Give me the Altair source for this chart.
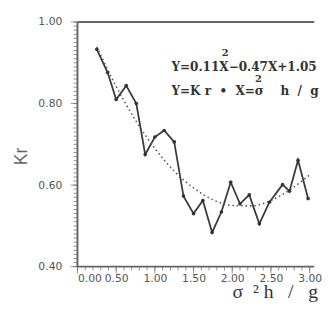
import altair as alt
import pandas as pd

x_vals = [0.25, 0.39, 0.50, 0.63, 0.76, 0.875, 1.00, 1.12, 1.25, 1.37, 1.50, 1.62,
          1.74, 1.86, 1.98, 2.10, 2.22, 2.35, 2.48, 2.65, 2.74, 2.85, 2.98]
kr_vals = [0.933, 0.876, 0.810, 0.844, 0.800, 0.675, 0.718, 0.734, 0.706, 0.573, 0.530, 0.562,
           0.484, 0.534, 0.607, 0.554, 0.576, 0.505, 0.558, 0.601, 0.585, 0.661, 0.567]

# fitted curve (dotted)
fit_x = [0.25, 0.50, 0.75, 1.00, 1.25, 1.50, 1.75, 2.00, 2.25, 2.50, 2.75, 3.00]
fit_y = [0.939, 0.842, 0.759, 0.690, 0.634, 0.593, 0.564, 0.550, 0.549, 0.562, 0.589, 0.625]

# tick positions
x_major_ticks = [0.0, 0.5, 1.0, 1.5, 2.0, 2.5, 3.0]
y_major_ticks = [0.4, 0.6, 0.8, 1.0]
x_minor_ticks = [round(i * 0.1, 1) for i in range(31)]
y_minor_ticks = [round(0.40 + i * 0.01, 2) for i in range(61)]

NB = "\u00a0"
eq_lines = ["Y=0.11X−0.47X+1.05",
            f"Y=K{NB}r{NB}{NB}•{NB}{NB}X=σ{NB}{NB}{NB}{NB}h{NB}{NB}/{NB}{NB}g"]
x_title = f"σ{NB}{NB}²{NB}h{NB}{NB}{NB}/{NB}{NB}{NB}g"

df = pd.DataFrame({"x": x_vals, "kr": kr_vals})
fit = pd.DataFrame({"x": fit_x, "y": fit_y})
one = pd.DataFrame({"k": [0]})

X_MAX = 3.06
W, H = 242, 250
xs = alt.Scale(domain=[0, X_MAX], nice=False, zero=False)
ys = alt.Scale(domain=[0.4, 1.0], nice=False, zero=False)
AX = "#666"

line = alt.Chart(df).mark_line(
    color="#3a3a3a", strokeWidth=1.8,
    point=alt.OverlayMarkDef(color="#333", size=14, filled=True),
).encode(
    x=alt.X("x:Q", scale=xs, axis=alt.Axis(
        values=x_major_ticks, format=".2f", domain=False, ticks=False,
        labelPadding=6, labelColor="#555", labelFont="DejaVu Sans", labelFontSize=11,
        grid=False,
        title=x_title, titleFont="Liberation Serif", titleFontSize=20,
        titleFontWeight="normal", titleColor="#333", titleX=158, titleY=32,
        titleAlign="left", titleBaseline="alphabetic")),
    y=alt.Y("kr:Q", scale=ys, axis=alt.Axis(
        values=y_major_ticks, format=".2f", domain=False, ticks=False,
        labelPadding=16, labelColor="#555", labelFont="DejaVu Sans", labelFontSize=11,
        grid=False,
        title="Kr", titleFont="Liberation Sans", titleFontSize=18,
        titleFontWeight="normal", titleColor="#666", titleX=-57, titleY=137,
        titleAngle=-90, titleAlign="center", titleBaseline="middle")),
)

curve = alt.Chart(fit).mark_line(
    color="#555", strokeWidth=1.6, strokeDash=[1.5, 3], interpolate="monotone"
).encode(
    x=alt.X("x:Q", scale=xs),
    y=alt.Y("y:Q", scale=ys),
)

# frame lines (top border, left and bottom axis lines)
top_line = alt.Chart(one).mark_rule(color=AX, strokeWidth=2).encode(
    x=alt.value(0), x2=alt.value(W), y=alt.value(0))
left_line = alt.Chart(one).mark_rule(color=AX, strokeWidth=2).encode(
    x=alt.value(0), y=alt.value(0), y2=alt.value(H))
bottom_line = alt.Chart(one).mark_rule(color=AX, strokeWidth=2).encode(
    x=alt.value(0), x2=alt.value(W), y=alt.value(H))

# tick marks
xminor = alt.Chart(pd.DataFrame({"x": x_minor_ticks})).mark_tick(
    color=AX, thickness=1, size=4).encode(
    x=alt.X("x:Q", scale=xs), y=alt.value(H + 2))
xmajor = alt.Chart(pd.DataFrame({"x": x_major_ticks})).mark_tick(
    color=AX, thickness=1, size=7).encode(
    x=alt.X("x:Q", scale=xs), y=alt.value(H + 3.5))
yminor = alt.Chart(pd.DataFrame({"kr": y_minor_ticks})).mark_tick(
    color=AX, thickness=1, size=4).encode(
    y=alt.Y("kr:Q", scale=ys), x=alt.value(-2))
ymajor = alt.Chart(pd.DataFrame({"kr": y_major_ticks})).mark_tick(
    color=AX, thickness=1, size=7).encode(
    y=alt.Y("kr:Q", scale=ys), x=alt.value(-3.5))

txt_style = dict(font="DejaVu Serif", fontWeight="bold", fontSize=12.3,
                 color="#333", align="left", baseline="middle")
sup_style = dict(txt_style, fontSize=10, align="center")

eq1 = alt.Chart(one).mark_text(text=eq_lines[0], **txt_style).encode(
    x=alt.value(96), y=alt.value(46))
eq2 = alt.Chart(one).mark_text(text=eq_lines[1], **txt_style).encode(
    x=alt.value(96), y=alt.value(71))
sup1 = alt.Chart(one).mark_text(text="2", **sup_style).encode(
    x=alt.value(151), y=alt.value(32))
sup2 = alt.Chart(one).mark_text(text="2", **sup_style).encode(
    x=alt.value(185), y=alt.value(58))

chart = alt.layer(
    line, curve, top_line, left_line, bottom_line,
    xminor, xmajor, yminor, ymajor, eq1, eq2, sup1, sup2
).properties(
    width=W, height=H,
).configure_view(stroke=None)

chart.save("out.html", embed_options={"renderer": "svg", "actions": False})
